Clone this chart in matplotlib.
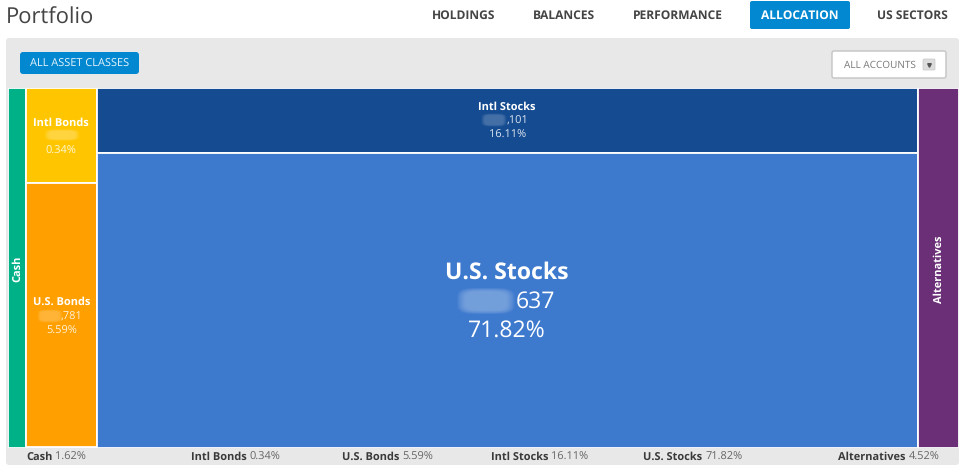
import numpy as np
import matplotlib
matplotlib.use('Agg')
import matplotlib.pyplot as plt
from matplotlib.patches import FancyBboxPatch, Rectangle

plt.rcParams['font.family'] = ['Open Sans', 'DejaVu Sans']
plt.rcParams['text.hinting'] = 'none'
plt.rcParams['text.hinting_factor'] = 1

# asset classes, in column order
classes = ['Cash', 'Intl Bonds', 'U.S. Bonds', 'Intl Stocks', 'U.S. Stocks', 'Alternatives']
percents = [1.62, 0.34, 5.59, 16.11, 71.82, 4.52]
# share of the treemap area each tile really gets on screen (small ones are padded)
tile_area = [1.91, 1.98, 5.49, 15.62, 70.64, 4.36]
columns = [0, 1, 1, 2, 2, 3]
colors = ['#00b188', '#ffc600', '#ff9f00', '#154c91', '#3d79cd', '#6b2f78']
amounts = ['', '', ',781', ',101', '637', '']

nav_items = ['HOLDINGS', 'BALANCES', 'PERFORMANCE', 'ALLOCATION', 'US SECTORS']
nav_x = [463.5, 564, 678, 800, 912]
footer_x = [26, 191, 342, 491, 643, 838]

W, H = 965, 471
fig = plt.figure(figsize=(W / 100, H / 100), dpi=100, facecolor='white')

# backdrop axes for the panel, treemap above it, labels on top
bg = fig.add_axes([0, 0, 1, 1], zorder=0)
bg.set_xlim(0, W)
bg.set_ylim(H, 0)
bg.axis('off')
ax = fig.add_axes([0, 0, 1, 1], zorder=2)
ax.set_xlim(0, W)
ax.set_ylim(H, 0)
ax.axis('off')


def rounded(target, x0, y0, x1, y1, color, edge='none', lw=0, r=3, z=1):
    target.add_patch(FancyBboxPatch((x0 + r, y0 + r), x1 - x0 - 2 * r, y1 - y0 - 2 * r,
                                    boxstyle=f'round,pad={r},rounding_size={r}',
                                    fc=color, ec=edge, lw=lw, zorder=z))


# header
ax.text(6, 18.5, 'Portfolio', fontsize=16, color='#444444', va='center', ha='left')
rounded(ax, 750, 1, 850, 29, '#0288d1', r=2)
for name, x in zip(nav_items, nav_x):
    ax.text(x, 16, name, fontsize=8.8, fontweight='bold', ha='center', va='center',
            color='white' if name == 'ALLOCATION' else '#444444')

# grey panel
rounded(bg, 6, 38, 959, 465, '#e8e8e8', r=3)
rounded(ax, 20, 52, 139, 74, '#0288d1', r=3, z=2)
ax.text(79.5, 64, 'ALL ASSET CLASSES', fontsize=8.2, color='#e8f4fb', ha='center', va='center', zorder=3)
rounded(ax, 832, 51, 946, 78, 'white', edge='#c4c4c4', lw=1, r=2, z=2)
ax.text(879.5, 65.5, 'ALL ACCOUNTS', fontsize=7.3, color='#777777', ha='center', va='center', zorder=3)
rounded(ax, 923, 59, 935, 70, '#dcdcdc', edge='#c8c8c8', lw=0.5, r=1, z=3)
ax.plot([929], [65], marker='v', ms=2.6, color='#555555', zorder=4)

# treemap gets its own axes, tile sizes worked out from tile_area
tm = fig.add_axes([7.6 / W, 1 - 447.5 / H, 951.4 / W, 360 / H], zorder=1)
tm.set_xlim(0, sum(tile_area))
tm.set_ylim(1, 0)
tm.axis('off')
tiles = {}
left = 0
for c in sorted(set(columns)):
    members = [i for i in range(len(classes)) if columns[i] == c]
    width = sum(tile_area[i] for i in members)
    top = 0
    for i in members:
        h = tile_area[i] / width
        tm.add_patch(Rectangle((left, top), width, h, fc=colors[i], ec='white', lw=1.3))
        tiles[i] = (left + width / 2, top + h / 2, h)
        top += h
    left += width


def label_y(i, offset_px):
    # tile centre plus an offset in screen pixels
    return tiles[i][1] + offset_px / 360


def blur(cx, cy, w, h, alpha=0.3, zorder=5):
    # masked digits: soft white smudge, squarish
    yy, xx = np.mgrid[-1:1:24j, -1:1:48j]
    a = np.clip(1.3 - (np.abs(xx) ** 4 + np.abs(yy) ** 4) * 1.3, 0, 1) * alpha
    img = np.ones((24, 48, 4))
    img[..., 3] = a
    ax.imshow(img, extent=(cx - w / 2, cx + w / 2, cy + h / 2, cy - h / 2),
              aspect='auto', zorder=zorder, interpolation='bilinear')


SMALL = 7.8
MIDDLE = 0.0045  # nudges the rotated labels to line up

# tile labels
tm.text(tiles[0][0] + 0.1, tiles[0][1] + MIDDLE, 'Cash', rotation=90, color='white', fontsize=7.8,
        fontweight='bold', ha='center', va='center')
tm.text(tiles[5][0] + 0.1, tiles[5][1] + MIDDLE, 'Alternatives', rotation=90, color='white', fontsize=7.7,
        fontweight='bold', ha='center', va='center')

tm.text(tiles[1][0], label_y(1, -12.5), 'Intl Bonds', color='white', fontsize=SMALL, fontweight='bold', ha='center', va='center')
tm.text(tiles[1][0], label_y(1, 15.5), '0.34%', color='white', fontsize=SMALL, ha='center', va='center', alpha=0.85)
blur(61.5, 135, 36, 12, alpha=0.25)

tm.text(tiles[2][0], label_y(2, -13), 'U.S. Bonds', color='white', fontsize=SMALL, fontweight='bold', ha='center', va='center')
tm.text(tiles[2][0] - 0.1, label_y(2, 1.5), amounts[2], color='white', fontsize=SMALL, ha='left', va='center', alpha=0.85)
tm.text(tiles[2][0], label_y(2, 15.5), '5.59%', color='white', fontsize=SMALL, ha='center', va='center', alpha=0.85)
blur(50, 316, 26, 14, alpha=0.22)

tm.text(tiles[3][0], label_y(3, -13), 'Intl Stocks', color='white', fontsize=SMALL, fontweight='bold', ha='center', va='center')
tm.text(tiles[3][0] - 0.1, label_y(3, 1), amounts[3], color='white', fontsize=SMALL, ha='left', va='center', alpha=0.85)
tm.text(tiles[3][0], label_y(3, 15), '16.11%', color='white', fontsize=SMALL, ha='center', va='center', alpha=0.85)
blur(494, 120, 26, 14, alpha=0.2)

tm.text(tiles[4][0], label_y(4, -27), 'U.S. Stocks', color='white', fontsize=16.6, fontweight='bold', ha='center', va='center')
tm.text(tiles[4][0] + 0.85, label_y(4, 1.5), amounts[4], color='white', fontsize=16.6, ha='left', va='center')
tm.text(tiles[4][0], label_y(4, 30.5), '71.82%', color='white', fontsize=16.6, ha='center', va='center')
blur(486, 301, 60, 28, alpha=0.28)

# footer strip: bold name then plain percent
renderer = fig.canvas.get_renderer()
for name, pct, x in zip(classes, percents, footer_x):
    t = ax.text(x, 457, name, fontsize=7.9, fontweight='bold', color='#3a3a3a', ha='left', va='center')
    bb = t.get_window_extent(renderer)
    ax.text(bb.x1 + 3, 457, f'{pct:.2f}%', fontsize=7.9, color='#666666', ha='left', va='center')

ax.set_xlim(0, W)
ax.set_ylim(H, 0)
fig.savefig('out.png', dpi=100, facecolor='white')
